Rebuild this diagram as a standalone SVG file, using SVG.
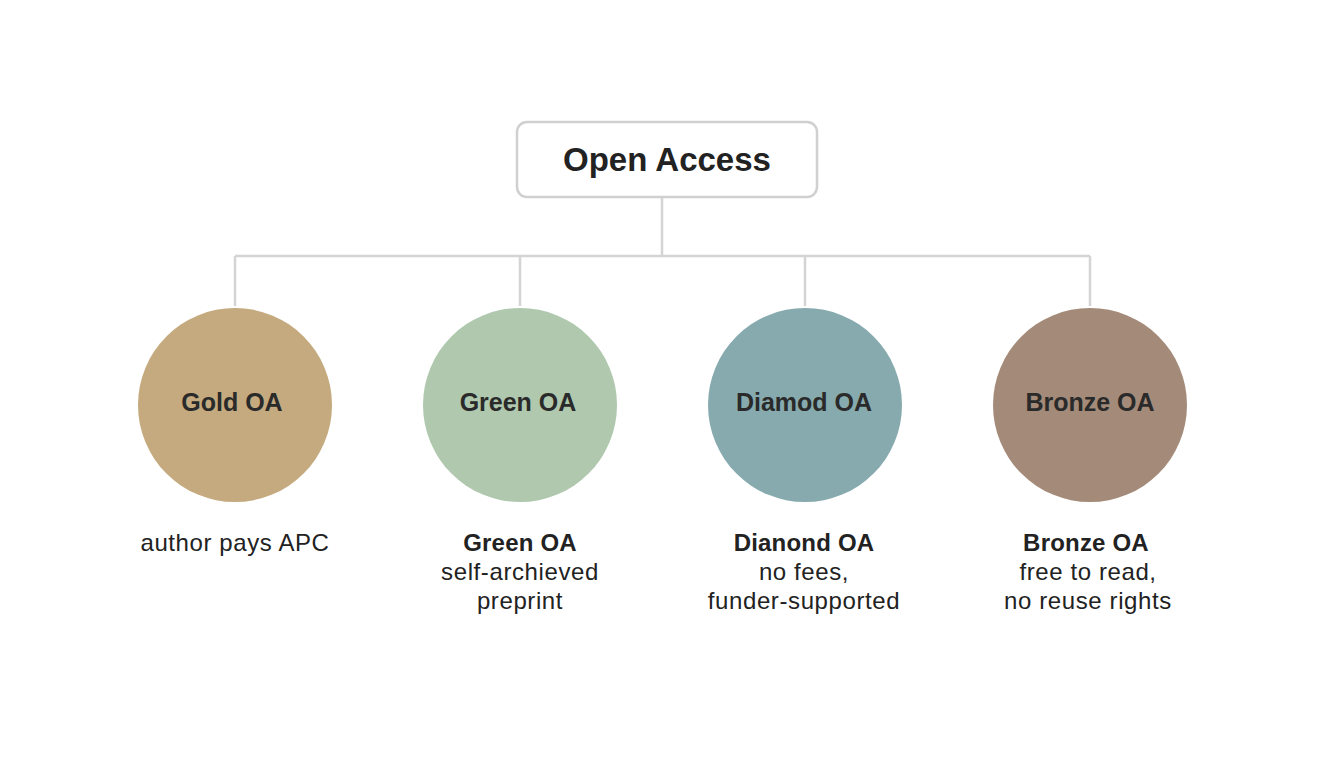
<svg xmlns="http://www.w3.org/2000/svg" width="1344" height="768" viewBox="0 0 1344 768">
<style>
text{font-family:"Liberation Sans",Arial,sans-serif;fill:#222;text-anchor:middle}
.c{font-size:25px;font-weight:bold;fill:#2a2a2a}
.d{font-size:24px;letter-spacing:0.6px}
.b{font-weight:bold;letter-spacing:0.2px}
.ln{stroke:#d4d4d4;stroke-width:2.5;fill:none}
</style>
<rect width="1344" height="768" fill="#fff"/>
<g id="connectors">
<path class="ln" d="M662 197V256M235 256H1090M235 256V306M520 256V306M805 256V306M1090 256V306"/>
</g>
<g id="root"><rect x="517" y="122" width="300" height="75" rx="10" fill="#fff" stroke="#d0d0d0" stroke-width="2.5"/><text x="667" y="171" font-size="33" font-weight="bold">Open Access</text></g>
<g id="gold"><circle cx="235" cy="405" r="97" fill="#c4aa7e"/><text class="c" x="232" y="411">Gold OA</text><text class="d" x="235" y="551">author pays APC</text></g>
<g id="green"><circle cx="520" cy="405" r="97" fill="#afc8ae"/><text class="c" x="518" y="411">Green OA</text><text class="d b" x="520" y="551">Green OA</text><text class="d" x="520" y="580">self-archieved</text><text class="d" x="520" y="609">preprint</text></g>
<g id="diamond"><circle cx="805" cy="405" r="97" fill="#86aaae"/><text class="c" x="804" y="411">Diamod OA</text><text class="d b" x="804" y="551">Dianond OA</text><text class="d" x="804" y="580">no fees,</text><text class="d" x="804" y="609">funder-supported</text></g>
<g id="bronze"><circle cx="1090" cy="405" r="97" fill="#a48a78"/><text class="c" x="1090" y="411">Bronze OA</text><text class="d b" x="1086" y="551">Bronze OA</text><text class="d" x="1088" y="580">free to read,</text><text class="d" x="1088" y="609">no reuse rights</text></g>
</svg>
